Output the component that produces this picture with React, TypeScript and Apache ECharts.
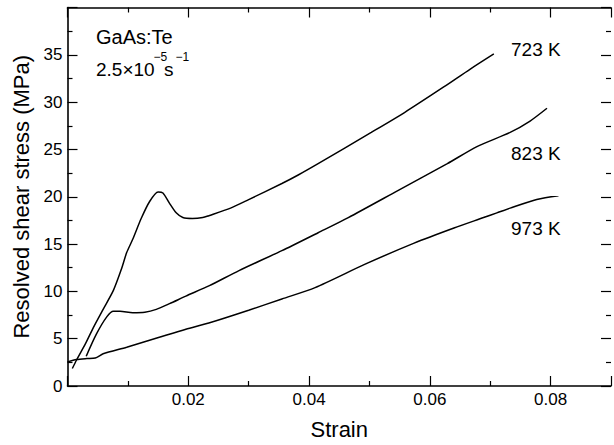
import React, { useEffect, useRef } from "react";
import * as echarts from "echarts";

// strain, resolved shear stress (MPa)
const curve723: [number, number][] = [
  [0.0008, 1.85], [0.0015, 2.75], [0.003, 4.5], [0.0043, 6.2], [0.0059, 8.1],
  [0.0076, 10.1], [0.0089, 12.3], [0.0098, 14.1], [0.0108, 15.5], [0.0122, 17.7],
  [0.0136, 19.5], [0.015, 20.5], [0.0158, 20.4], [0.0169, 19.3], [0.018, 18.3],
  [0.0191, 17.8], [0.0207, 17.7], [0.0224, 17.8], [0.0234, 18.0], [0.027, 18.8],
  [0.03, 19.7], [0.0355, 21.4], [0.0382, 22.3], [0.0415, 23.5], [0.0503, 26.8],
  [0.0558, 28.9], [0.0623, 31.6], [0.0667, 33.5], [0.0706, 35.1],
];

const curve823: [number, number][] = [
  [0.0031, 3.15], [0.0048, 5.5], [0.0065, 7.3], [0.0076, 7.9], [0.0087, 7.9],
  [0.0108, 7.75], [0.0128, 7.8], [0.0147, 8.1], [0.0169, 8.7], [0.0196, 9.5],
  [0.0235, 10.6], [0.0284, 12.2], [0.0355, 14.3], [0.0415, 16.2], [0.0465, 17.8],
  [0.0547, 20.65], [0.0629, 23.5], [0.0678, 25.3], [0.0733, 26.8], [0.0766, 28.0],
  [0.0794, 29.35],
];

const curve973: [number, number][] = [
  [0.0, 2.55], [0.0015, 2.8], [0.0032, 2.9], [0.0046, 2.95], [0.0059, 3.4],
  [0.0098, 4.1], [0.0152, 5.15], [0.0196, 6.0], [0.0234, 6.65], [0.03, 8.0],
  [0.0355, 9.2], [0.041, 10.4], [0.0492, 12.85], [0.0574, 15.1], [0.064, 16.7],
  [0.0689, 17.8], [0.0711, 18.3], [0.0733, 18.8], [0.0777, 19.7], [0.0813, 20.1],
];

const xTickLabels = ["0.02", "0.04", "0.06", "0.08"];
const yTickLabels = ["0", "5", "10", "15", "20", "25", "30", "35"];
const curveLabels = ["723 K", "823 K", "973 K"];

const FONT = "'Liberation Sans', Arial, Helvetica, sans-serif";

export default function App() {
  const ref = useRef<HTMLDivElement>(null);
  useEffect(() => {
    if (!ref.current) return;
    const chart = echarts.init(ref.current, null, { renderer: "svg" });
    const axisLine = { show: true, onZero: false, lineStyle: { color: "#000", width: 1.6 } };
    const tick = { show: true, inside: true, length: 10, lineStyle: { color: "#000", width: 1.2 } };
    const minor = { show: true, splitNumber: 2, length: 5, lineStyle: { color: "#000", width: 1.2 } };
    const rightTick = { show: true, inside: true, length: 10, lineStyle: { color: "#000", width: 1.2 } };
    const line = (data: [number, number][]) => ({
      type: "line",
      data,
      showSymbol: false,
      smooth: 0.25,
      lineStyle: { color: "#000", width: 1.5 },
      xAxisIndex: 0,
      yAxisIndex: 0,
    });
    const textEl = (text: string, x: number, y: number, size: number) => ({
      type: "text",
      x,
      y,
      style: { text, fontSize: size, fontFamily: FONT, fill: "#000", verticalAlign: "middle", align: "left" },
    });
    chart.setOption({
      animation: false,
      backgroundColor: "#fff",
      grid: { left: 67.5, right: -1.5, top: 7.5, bottom: 55.5 },
      xAxis: [
        {
          type: "value", position: "bottom", min: 0, max: 0.09, interval: 0.02,
          axisLine, axisTick: tick, minorTick: minor, splitLine: { show: false },
          axisLabel: {
            color: "#000", fontSize: 17, fontFamily: FONT, margin: 5,
            formatter: (v: number) => { const s = v.toFixed(2); return xTickLabels.includes(s) ? s : ""; },
          },
          name: "Strain", nameLocation: "middle", nameGap: 32,
          nameTextStyle: { color: "#000", fontSize: 22, fontFamily: FONT },
        },
        {
          type: "value", position: "top", min: 0, max: 0.09, interval: 0.02,
          axisLine, axisTick: tick, minorTick: minor, splitLine: { show: false },
          axisLabel: { show: false },
        },
      ],
      yAxis: [
        {
          type: "value", position: "left", min: 0, max: 40, interval: 5,
          axisLine, axisTick: tick, minorTick: minor, splitLine: { show: false },
          axisLabel: {
            color: "#000", fontSize: 17, fontFamily: FONT, margin: 5,
            formatter: (v: number) => { const s = String(Math.round(v)); return yTickLabels.includes(s) ? s : ""; },
          },
          name: "Resolved shear stress (MPa)", nameLocation: "middle", nameGap: 34,
          nameTextStyle: { color: "#000", fontSize: 22, fontFamily: FONT },
        },
        {
          type: "value", position: "right", min: 0, max: 40, interval: 5,
          axisLine: { show: false, onZero: false }, axisTick: rightTick, minorTick: minor, splitLine: { show: false },
          axisLabel: { show: false },
        },
      ],
      series: [line(curve723), line(curve823), line(curve973)],
      graphic: [
        textEl("GaAs:Te", 96, 36.5, 20),
        textEl("2.5×10", 96, 69.5, 19),
        textEl("−5", 153.5, 56.5, 12),
        textEl("s", 164, 69.5, 19),
        textEl("−1", 175.5, 56.5, 12),
        textEl(curveLabels[0], 511, 49.5, 19),
        textEl(curveLabels[1], 511, 153, 19),
        textEl(curveLabels[2], 511, 228.5, 19),
      ],
    });
    return () => chart.dispose();
  }, []);
  return <div ref={ref} style={{ position: "absolute", left: 0, top: 0, width: 614, height: 445, overflow: "hidden" }} />;
}
